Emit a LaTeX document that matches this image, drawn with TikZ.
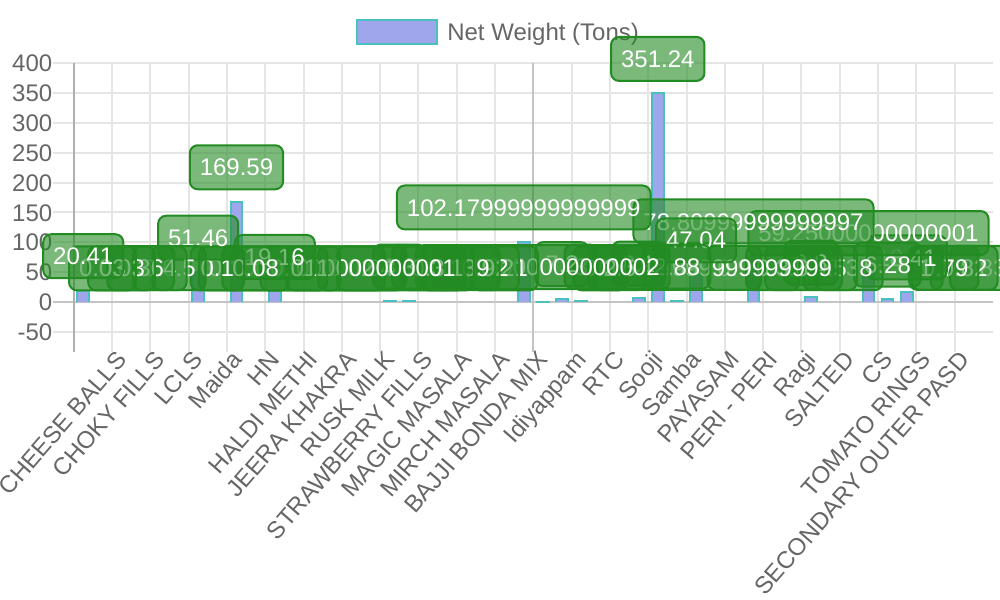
\documentclass[tikz,border=0pt]{standalone}
\usepackage{fontspec}
\setmainfont{Liberation Sans}
\definecolor{tickc}{HTML}{666666}
\definecolor{gridc}{HTML}{E5E5E5}
\definecolor{axisc}{HTML}{B0B0B0}
\definecolor{zeroc}{HTML}{C4C4C4}
\definecolor{barfill}{RGB}{160,166,236}
\definecolor{barline}{RGB}{75,192,192}
\definecolor{fgreen}{RGB}{34,139,34}
\begin{document}
\begin{tikzpicture}[x=0.75pt,y=-0.75pt,
  gridline/.style={draw=gridc,line width=1.5pt},
  axisline/.style={draw=axisc,line width=1.5pt},
  zeroline/.style={draw=zeroc,line width=1.5pt},
  ylab/.style={anchor=east,inner sep=0pt,text=tickc,font=\fontsize{18pt}{21.6pt}\selectfont,text height=12.9pt,text depth=0pt},
  xlab/.style={anchor=east,rotate=49,inner sep=0pt,text=tickc,font=\fontsize{18pt}{21.6pt}\selectfont,text height=12.9pt,text depth=0pt},
  legtext/.style={anchor=west,inner sep=0pt,text=tickc,font=\fontsize{18pt}{21.6pt}\selectfont,text height=12.9pt,text depth=0pt},
  barbody/.style={fill=barfill},
  baredge/.style={draw=barline,line width=1.5pt},
  dlabel/.style={draw=fgreen,line width=1.5pt,fill=fgreen,fill opacity=0.6,draw opacity=1,text opacity=1,
    text=white,rounded corners=6pt,inner xsep=7.5pt,inner ysep=0pt,minimum height=33pt,
    font=\fontsize{18pt}{21.6pt}\selectfont,text height=12.9pt,text depth=0pt}
]
\useasboundingbox (0,0) rectangle (1000,600);
\clip (0,0) rectangle (1000,600);
\fill[white] (0,0) rectangle (1000,600);
% horizontal grid and y labels
\foreach \k in {0,...,9} {
  \pgfmathsetmacro\yy{63.3+\k*29.82}
  \pgfmathtruncatemacro\val{400-50*\k}
  \draw[gridline] (53.3,\yy) -- (992.7,\yy);
  \node[ylab] (Y\k) at (52.5,\yy) {\val};
}
% vertical grid
\foreach \m in {1,...,23} {
  \pgfmathsetmacro\xx{73.7+\m*38.3}
  \draw[gridline] (\xx,63.3) -- (\xx,351.7);
}
\draw[zeroline] (533.3,63.3) -- (533.3,351.7);
\draw[zeroline] (53.3,301.9) -- (992.7,301.9);
\draw[axisline] (73.7,63.3) -- (73.7,351.7);
% legend
\path[barbody,draw=barline,line width=1.5pt] (357,20) rectangle (437,44);
\node[legtext] (leg) at (447,32) {Net Weight (Tons)};
% bars
\foreach \i/\v in {0/20.41,6/51.46,8/169.59,10/19.16,16/3,17/3,23/102.18,24/2.2,25/7.2,26/3,29/8.1,30/351.24,31/2.88,32/47.04,35/78.81,38/9.8,41/59.25,42/6.28,43/18.41} {
  \pgfmathsetmacro\cx{73.7+(\i+0.5)*19.15}
  \pgfmathsetmacro\tp{301.9-\v*0.5964}
  \fill[barbody] (\cx-6.9,301.9) rectangle (\cx+6.9,\tp);
  \draw[baredge] (\cx-5.9,301.9) |- (\cx+5.9,\tp+1) -- (\cx+5.9,301.9);
}
% x labels
\foreach \k/\nm in {2/CHEESE BALLS,4/CHOKY FILLS,6/LCLS,8/Maida,10/HN,12/HALDI METHI,14/JEERA KHAKRA,16/RUSK MILK,18/STRAWBERRY FILLS,20/MAGIC MASALA,22/MIRCH MASALA,24/BAJJI BONDA MIX,26/Idiyappam,28/RTC,30/Sooji,32/Samba,34/PAYASAM,36/PERI - PERI,38/Ragi,40/SALTED,42/CS,44/TOMATO RINGS,46/SECONDARY OUTER PASD} {
  \node[xlab] (X\k) at ({73.7+(\k+0.5)*19.15},355) {\nm};
}
% data labels (drawn from last to first)
\foreach \i/\v/\lab in {47/0.83/0.83,46/0.82/0.82,45/0.79/0.79,44/1/1,43/18.41/18.41,42/6.28/6.28,41/59.25/59.25000000000001,40/0.38/0.38,39/0.5/0.5,38/9.8/9.8,37/0.6/0.6,36/0.3/0.3,35/78.81/78.80999999999997,34/0.9/0.9,33/0.8/0.7999999999999999,32/47.04/47.04,31/2.88/2.88,30/351.24/351.24,29/8.1/8.1,28/0.5/0.5,27/0.2/0.2,26/3/3,25/7.2/7.2,24/2.2/2.2000000000000002,23/102.18/102.17999999999999,22/0.21/0.21,21/0.92/0.92,20/0.39/0.39,19/0.1/0.1,18/0.3/0.3,17/3/3,16/3/3,15/0.04/0.04,14/0.02/0.02,13/0.1/0.10000000000000001,12/0.1/0.1,11/0.01/0.01,10/19.16/19.16,9/0.08/0.08,8/169.59/169.59,7/0.1/0.1,6/51.46/51.46,5/0.5/0.5,4/0.4/0.4,3/0.36/0.36,2/0.03/0.03,1/0.03/0.03,0/20.41/20.41} {
  \pgfmathsetmacro\cx{73.7+(\i+0.5)*19.15}
  \pgfmathsetmacro\tp{301.9-\v*0.5964-10.5}
  \node[dlabel,anchor=south] (L\i) at (\cx,\tp) {\lab};
}
\end{tikzpicture}
\end{document}
